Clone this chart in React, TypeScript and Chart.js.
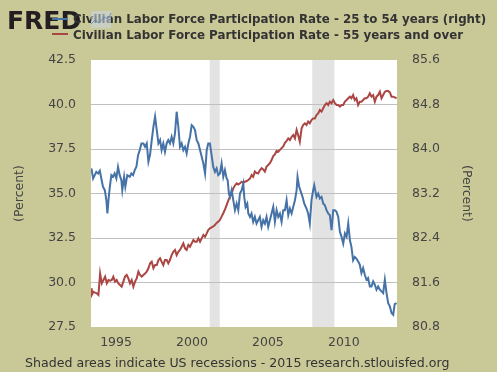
import { useEffect, useRef } from "react";
import { Chart, registerables } from "chart.js";

Chart.register(...registerables);

const seriesLabels = [
  "Civilian Labor Force Participation Rate - 25 to 54 years (right)",
  "Civilian Labor Force Participation Rate - 55 years and over",
];

const blueYears = [
  1993.38, 1993.49, 1993.6, 1993.7, 1993.82, 1993.93, 1994.03, 1994.14, 1994.26, 1994.36,
  1994.43, 1994.52, 1994.59, 1994.69, 1994.8, 1994.91, 1995.02, 1995.13, 1995.24, 1995.35,
  1995.41, 1995.53, 1995.61, 1995.74, 1995.9, 1996.01, 1996.12, 1996.23, 1996.34, 1996.45,
  1996.56, 1996.67, 1996.8, 1996.91, 1997.02, 1997.13, 1997.24, 1997.35, 1997.46, 1997.57,
  1997.68, 1997.79, 1997.9, 1998.0, 1998.11, 1998.22, 1998.33, 1998.44, 1998.55, 1998.66,
  1998.77, 1998.88, 1998.99, 1999.1, 1999.21, 1999.32, 1999.43, 1999.54, 1999.65, 1999.76,
  1999.87, 1999.98, 2000.09, 2000.2, 2000.31, 2000.42, 2000.53, 2000.64, 2000.75, 2000.86,
  2000.97, 2001.07, 2001.18, 2001.29, 2001.4, 2001.51, 2001.62, 2001.73, 2001.84, 2001.95,
  2002.06, 2002.17, 2002.28, 2002.35, 2002.43, 2002.5, 2002.61, 2002.72, 2002.83, 2002.94,
  2003.05, 2003.16, 2003.27, 2003.38, 2003.44, 2003.53, 2003.64, 2003.71, 2003.82, 2003.92,
  2004.03, 2004.14, 2004.25, 2004.36, 2004.47, 2004.58, 2004.69, 2004.8, 2004.91, 2005.02,
  2005.13, 2005.24, 2005.35, 2005.46, 2005.57, 2005.68, 2005.79, 2005.9, 2006.01, 2006.12,
  2006.23, 2006.34, 2006.45, 2006.56, 2006.67, 2006.78, 2006.89, 2006.95, 2007.06, 2007.17,
  2007.28, 2007.39, 2007.54, 2007.65, 2007.76, 2007.87, 2007.98, 2008.05, 2008.2, 2008.31,
  2008.42, 2008.53, 2008.64, 2008.75, 2008.86, 2008.97, 2009.08, 2009.19, 2009.3, 2009.41,
  2009.52, 2009.63, 2009.74, 2009.85, 2009.96, 2010.07, 2010.18, 2010.29, 2010.4, 2010.5,
  2010.61, 2010.72, 2010.83, 2010.94, 2011.05, 2011.16, 2011.27, 2011.38, 2011.49, 2011.6,
  2011.71, 2011.82, 2011.93, 2012.04, 2012.15, 2012.26, 2012.37, 2012.48, 2012.59, 2012.7,
  2012.81, 2012.92, 2013.03, 2013.14, 2013.25, 2013.35, 2013.47,
];
const blueValues = [
  83.65, 83.47, 83.53, 83.59, 83.56, 83.61, 83.47, 83.32, 83.26, 83.08,
  82.84, 83.14, 83.32, 83.53, 83.5, 83.56, 83.47, 83.68, 83.53, 83.44,
  83.26, 83.5, 83.32, 83.53, 83.5, 83.56, 83.53, 83.62, 83.68, 83.89,
  83.98, 84.1, 84.1, 84.04, 84.1, 83.77, 83.9, 84.16, 84.4, 84.58,
  84.34, 84.1, 84.16, 83.98, 84.1, 83.95, 84.1, 84.16, 84.1, 84.22,
  84.1, 84.28, 84.67, 84.4, 84.04, 84.1, 83.98, 84.04, 83.92, 84.1,
  84.22, 84.43, 84.4, 84.34, 84.16, 84.1, 83.98, 83.86, 83.74, 83.56,
  83.98, 84.1, 84.1, 83.89, 83.68, 83.59, 83.65, 83.53, 83.56, 83.74,
  83.5, 83.62, 83.47, 83.44, 83.2, 83.14, 83.26, 83.08, 82.9, 83.02,
  82.9, 83.2, 83.26, 83.38, 83.14, 82.96, 83.02, 82.84, 82.78, 82.84,
  82.69, 82.78, 82.66, 82.72, 82.78, 82.6, 82.72, 82.66, 82.78, 82.6,
  82.72, 82.84, 82.96, 82.69, 82.9, 82.78, 82.84, 82.69, 82.9, 82.9,
  83.08, 82.81, 82.93, 82.84, 82.96, 83.08, 83.26, 83.5, 83.32, 83.23,
  83.14, 83.02, 82.93, 82.84, 82.66, 83.08, 83.26, 83.35, 83.14, 83.2,
  83.11, 83.14, 83.02, 82.99, 82.9, 82.84, 82.81, 82.54, 82.9, 82.9,
  82.87, 82.78, 82.51, 82.42, 82.3, 82.48, 82.42, 82.66, 82.36, 82.24,
  82.0, 82.06, 82.03, 81.98, 81.92, 81.77, 81.86, 81.74, 81.65, 81.68,
  81.53, 81.53, 81.62, 81.56, 81.47, 81.53, 81.47, 81.44, 81.41, 81.65,
  81.41, 81.23, 81.17, 81.05, 81.02, 81.21, 81.23,
];

const redYears = [
  1993.36, 1993.4, 1993.51, 1993.62, 1993.73, 1993.84, 1993.95, 1994.06, 1994.17, 1994.28,
  1994.39, 1994.5, 1994.61, 1994.72, 1994.82, 1994.93, 1995.04, 1995.15, 1995.26, 1995.37,
  1995.48, 1995.59, 1995.7, 1995.81, 1995.92, 1996.03, 1996.14, 1996.25, 1996.36, 1996.47,
  1996.58, 1996.69, 1996.8, 1996.91, 1997.02, 1997.13, 1997.24, 1997.35, 1997.46, 1997.57,
  1997.68, 1997.79, 1997.9, 1998.0, 1998.11, 1998.22, 1998.33, 1998.44, 1998.55, 1998.66,
  1998.77, 1998.88, 1998.99, 1999.1, 1999.21, 1999.32, 1999.43, 1999.54, 1999.65, 1999.76,
  1999.87, 1999.98, 2000.09, 2000.2, 2000.31, 2000.42, 2000.53, 2000.64, 2000.75, 2000.86,
  2000.97, 2001.07, 2001.18, 2001.29, 2001.4, 2001.51, 2001.62, 2001.73, 2001.84, 2001.95,
  2002.06, 2002.17, 2002.28, 2002.39, 2002.5, 2002.61, 2002.72, 2002.83, 2002.94, 2003.05,
  2003.16, 2003.27, 2003.38, 2003.49, 2003.6, 2003.71, 2003.82, 2003.93, 2004.03, 2004.14,
  2004.25, 2004.36, 2004.47, 2004.59, 2004.69, 2004.8, 2004.91, 2005.02, 2005.13, 2005.24,
  2005.35, 2005.46, 2005.57, 2005.68, 2005.79, 2005.9, 2006.01, 2006.12, 2006.23, 2006.34,
  2006.45, 2006.56, 2006.67, 2006.78, 2006.89, 2006.99, 2007.1, 2007.22, 2007.32, 2007.43,
  2007.54, 2007.65, 2007.76, 2007.87, 2007.98, 2008.09, 2008.2, 2008.31, 2008.42, 2008.53,
  2008.64, 2008.75, 2008.86, 2008.97, 2009.08, 2009.19, 2009.3, 2009.41, 2009.52, 2009.63,
  2009.74, 2009.85, 2009.96, 2010.07, 2010.18, 2010.29, 2010.4, 2010.5, 2010.61, 2010.72,
  2010.83, 2010.94, 2011.05, 2011.16, 2011.27, 2011.38, 2011.49, 2011.6, 2011.71, 2011.82,
  2011.93, 2012.04, 2012.15, 2012.26, 2012.37, 2012.48, 2012.59, 2012.7, 2012.81, 2012.92,
  2013.03, 2013.14, 2013.25, 2013.35, 2013.47,
];
const redValues = [
  29.67, 29.3, 29.48, 29.43, 29.39, 29.3, 30.51, 29.95, 30.14, 30.33,
  29.95, 30.14, 30.1, 30.14, 30.33, 30.05, 30.14, 29.95, 29.86, 29.77,
  30.05, 30.33, 30.42, 30.23, 29.95, 30.14, 29.77, 30.05, 30.23, 30.61,
  30.42, 30.33, 30.42, 30.51, 30.61, 30.8, 31.08, 31.17, 30.8, 30.98,
  30.98, 31.26, 31.36, 31.17, 30.98, 31.26, 31.26, 31.08, 31.26, 31.54,
  31.73, 31.83, 31.54, 31.73, 31.83, 32.01, 32.2, 31.92, 31.83, 32.11,
  32.01, 32.2, 32.39, 32.29, 32.29, 32.48, 32.29, 32.48, 32.67, 32.57,
  32.76, 32.95, 33.04, 33.1, 33.15, 33.23, 33.35, 33.42, 33.51, 33.7,
  33.89, 34.1, 34.35, 34.6, 34.82, 35.01, 35.29, 35.45, 35.57, 35.5,
  35.57, 35.66, 35.6, 35.66, 35.7, 35.76, 35.85, 36.04, 35.94, 36.23,
  36.15, 36.13, 36.3, 36.42, 36.35, 36.23, 36.51, 36.6, 36.7, 36.88,
  37.1, 37.2, 37.4, 37.35, 37.45, 37.55, 37.65, 37.85, 37.95, 38.1,
  38.0, 38.19, 38.29, 38.1, 38.57, 38.29, 37.91, 38.66, 38.85, 38.94,
  38.85, 39.04, 38.94, 39.13, 39.22, 39.22, 39.41, 39.5, 39.69, 39.6,
  39.79, 39.97, 40.07, 39.97, 40.16, 40.07, 40.25, 40.07, 39.97, 39.97,
  39.88, 39.97, 39.97, 40.16, 40.25, 40.35, 40.44, 40.35, 40.53, 40.25,
  40.35, 39.97, 40.16, 40.16, 40.25, 40.35, 40.35, 40.44, 40.63, 40.44,
  40.53, 40.16, 40.44, 40.53, 40.72, 40.35, 40.53, 40.72, 40.76, 40.76,
  40.68, 40.44, 40.44, 40.4, 40.35,
];

const xTickYears = [1995, 2000, 2005, 2010];
const leftTicks = [27.5, 30, 32.5, 35, 37.5, 40, 42.5];
const rightTicks = [80.8, 81.6, 82.4, 83.2, 84.0, 84.8, 85.6];
const recessionStarts = [2001.17, 2007.92];
const recessionEnds = [2001.83, 2009.38];
const xRange = [1993.35, 2013.5];
const axisTitle = "(Percent)";
const footerText = "Shaded areas indicate US recessions - 2015 research.stlouisfed.org";
const logoText = "FRED";

const BG = "#c9c998";
const BLUE = "#4572a7";
const RED = "#aa4643";
const TEXT = "#333333";
const TICK = "#444444";
const FONT = '"DejaVu Sans", Verdana, sans-serif';

const fredPlugin = {
  id: "fredDecor",
  beforeDraw(chart: any) {
    const { ctx, chartArea: a, scales } = chart;
    ctx.save();
    ctx.fillStyle = BG;
    ctx.fillRect(0, 0, chart.width, chart.height);
    ctx.fillStyle = "#ffffff";
    ctx.fillRect(a.left, a.top, a.right - a.left, a.bottom - a.top);
    ctx.fillStyle = "#e3e3e3";
    recessionStarts.forEach((s, i) => {
      const x1 = scales.x.getPixelForValue(s);
      const x2 = scales.x.getPixelForValue(recessionEnds[i]);
      ctx.fillRect(x1, a.top, x2 - x1, a.bottom - a.top);
    });
    ctx.restore();
  },
  afterDraw(chart: any) {
    const { ctx } = chart;
    ctx.save();
    // logo
    ctx.fillStyle = "#231f20";
    ctx.font = `bold 25px ${FONT}`;
    ctx.textBaseline = "alphabetic";
    ctx.textAlign = "left";
    ctx.fillText(logoText, 7, 29);
    // legend
    const ds = chart.data.datasets;
    const rows = [
      { y: 19, base: 22.5 },
      { y: 34, base: 38.5 },
    ];
    ds.forEach((d: any, i: number) => {
      ctx.strokeStyle = d.borderColor;
      ctx.lineWidth = 2;
      ctx.beginPath();
      ctx.moveTo(52, rows[i].y);
      ctx.lineTo(68, rows[i].y);
      ctx.stroke();
      ctx.fillStyle = TEXT;
      ctx.font = `bold 11.85px ${FONT}`;
      ctx.fillText(d.label, 73, rows[i].base);
    });
    // small graph icon over logo
    ctx.fillStyle = "rgba(200,214,232,0.55)";
    ctx.fillRect(91, 11, 20, 17);
    ctx.strokeStyle = "rgba(90,130,175,0.8)";
    ctx.lineWidth = 1;
    ctx.beginPath();
    ctx.moveTo(91, 24);
    ctx.lineTo(95, 20);
    ctx.lineTo(99, 23);
    ctx.lineTo(104, 17);
    ctx.lineTo(108, 19);
    ctx.lineTo(111, 13);
    ctx.stroke();
    // footer
    ctx.fillStyle = TEXT;
    ctx.font = `12.6px ${FONT}`;
    ctx.fillText(footerText, 25, 367);
    ctx.restore();
  },
};

export default function App() {
  const canvasRef = useRef<HTMLCanvasElement | null>(null);

  useEffect(() => {
    if (!canvasRef.current) return;
    const tickFont = { family: FONT, size: 12.5 };
    const gridColor = (c: any) =>
      c.tick && (c.tick.value === leftTicks[0] || c.tick.value === leftTicks[leftTicks.length - 1])
        ? "rgba(0,0,0,0)"
        : "#c0c0c0";

    const chart = new Chart(canvasRef.current, {
      type: "line",
      data: {
        datasets: [
          {
            label: seriesLabels[0],
            data: blueYears.map((x, i) => ({ x, y: blueValues[i] })),
            borderColor: BLUE,
            backgroundColor: BLUE,
            borderWidth: 2,
            pointRadius: 0,
            tension: 0,
            yAxisID: "y1",
          },
          {
            label: seriesLabels[1],
            data: redYears.map((x, i) => ({ x, y: redValues[i] })),
            borderColor: RED,
            backgroundColor: RED,
            borderWidth: 2,
            pointRadius: 0,
            tension: 0,
            yAxisID: "y",
          },
        ],
      },
      options: {
        animation: false,
        responsive: true,
        maintainAspectRatio: false,
        devicePixelRatio: 1,
        layout: { padding: { top: 60, left: 0, right: 0, bottom: 0 } },
        plugins: {
          legend: { display: false },
          tooltip: { enabled: false },
          title: { display: false },
        },
        scales: {
          x: {
            type: "linear",
            position: "bottom",
            min: xRange[0],
            max: xRange[1],
            afterBuildTicks: (s: any) => {
              s.ticks = xTickYears.map((v) => ({ value: v }));
            },
            afterFit: (s: any) => {
              s.height = 45;
            },
            ticks: {
              font: tickFont,
              color: TICK,
              padding: 8,
              maxRotation: 0,
              autoSkip: false,
              callback: (v: any) => String(v),
            },
            grid: { display: false, drawTicks: false },
            border: { display: false },
          },
          y: {
            type: "linear",
            position: "left",
            min: leftTicks[0],
            max: leftTicks[leftTicks.length - 1],
            afterBuildTicks: (s: any) => {
              s.ticks = leftTicks.map((v) => ({ value: v }));
            },
            afterFit: (s: any) => {
              s.width = 91;
            },
            ticks: {
              font: tickFont,
              color: TICK,
              padding: 15,
              callback: (v: any) => Number(v).toFixed(1),
            },
            grid: { color: gridColor, lineWidth: 1, drawTicks: false },
            border: { display: false },
            title: {
              display: true,
              text: axisTitle,
              color: TICK,
              font: { family: FONT, size: 12.5 },
              padding: { top: 12.5, bottom: 0 },
            },
          },
          y1: {
            type: "linear",
            position: "right",
            min: rightTicks[0],
            max: rightTicks[rightTicks.length - 1],
            afterBuildTicks: (s: any) => {
              s.ticks = rightTicks.map((v) => ({ value: v }));
            },
            afterFit: (s: any) => {
              s.width = 100;
            },
            ticks: {
              font: tickFont,
              color: TICK,
              padding: 15,
              callback: (v: any) => Number(v).toFixed(1),
            },
            grid: { display: false, drawTicks: false },
            border: { display: false },
            title: {
              display: true,
              text: axisTitle,
              color: TICK,
              font: { family: FONT, size: 12.5 },
              padding: { top: 23.5, bottom: 0 },
            },
          },
        },
      },
      plugins: [fredPlugin],
    } as any);
    return () => chart.destroy();
  }, []);

  return (
    <div style={{ position: "absolute", left: 0, top: 0, width: 497, height: 372 }}>
      <canvas ref={canvasRef} />
    </div>
  );
}
